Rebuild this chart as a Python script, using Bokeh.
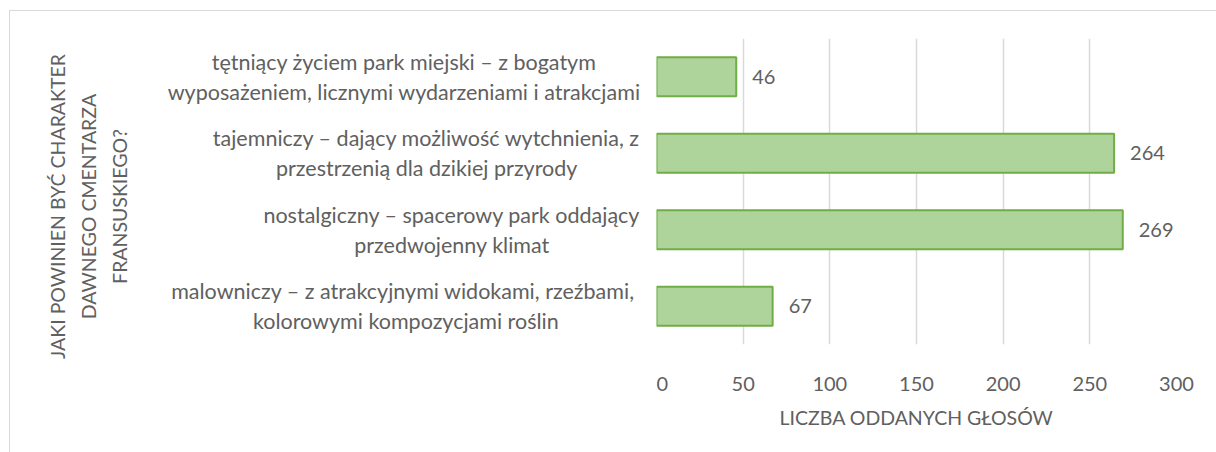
import math
from bokeh.plotting import figure
from bokeh.layouts import row, column
from bokeh.models import Range1d, FactorRange, FixedTicker, LabelSet, ColumnDataSource
from bokeh.core.properties import value
from bokeh.embed import file_html
from bokeh.resources import INLINE

categories = [
    "tętniący życiem park miejski – z bogatym\nwyposażeniem, licznymi wydarzeniami i atrakcjami",
    "tajemniczy – dający możliwość wytchnienia, z\nprzestrzenią dla dzikiej przyrody",
    "nostalgiczny – spacerowy park oddający\nprzedwojenny klimat",
    "malowniczy –  z atrakcyjnymi widokami, rzeźbami,\nkolorowymi kompozycjami roślin",
]
votes = [46, 264, 269, 67]
x_ticks = [0, 50, 100, 150, 200, 250, 300]
x_title = "LICZBA ODDANYCH GŁOSÓW"
y_title = "JAKI POWINIEN BYĆ CHARAKTER\nDAWNEGO CMENTARZA\nFRANSUSKIEGO?"

FONT = "Lato"
GREY = "#606060"
H = 446
TOP, BOTTOM = 27, H + 11 - 344

src = ColumnDataSource(dict(cat=categories, votes=votes, txt=[str(v) for v in votes]))
factors = categories[::-1]

# ---- left panel: category labels and the vertical axis title ----
left = figure(width=646, height=H, output_backend="svg", toolbar_location=None,
              x_range=Range1d(0, 646),
              y_range=FactorRange(factors=factors, range_padding=0.3268,
                                  range_padding_units="absolute"),
              min_border_left=0, min_border_right=0, min_border_top=TOP - 25,
              min_border_bottom=BOTTOM - 25)
left.xaxis.visible = False
left.yaxis.visible = False
left.grid.visible = False
left.outline_line_color = None
left.text(x=630, y="cat", text="cat", source=src, anchor="center_right",
          text_align="center", text_baseline="middle",
          text_font=value(FONT), text_font_size="21.5px", text_color=GREY,
          text_line_height=1.15)
left.text(x=[78], y=[len(factors) / 2], text=[y_title], y_offset=15, angle=math.pi / 2,
          anchor="center", text_align="center", text_baseline="middle",
          text_font=value(FONT), text_font_size="19.5px", text_color=GREY,
          text_line_height=1.36)

# ---- right panel: the bars ----
p = figure(width=564, height=H, output_backend="svg", toolbar_location=None,
           x_range=Range1d(0, 300),
           y_range=FactorRange(factors=factors, range_padding=0),
           min_border_left=0, min_border_right=44, min_border_top=TOP,
           min_border_bottom=BOTTOM)
p.outline_line_color = None

p.hbar(y="cat", right="votes", left=0, height=0.51, source=src,
       fill_color="#aed49b", line_color="#70ad47", line_width=2)

labels = LabelSet(x="votes", y="cat", text="txt", source=src, x_offset=16,
                  text_align="left", text_baseline="middle",
                  text_font=value(FONT), text_font_size="20px", text_color=GREY)
p.add_layout(labels)

p.xaxis.ticker = FixedTicker(ticks=x_ticks)
p.xaxis.axis_line_color = None
p.xaxis.major_tick_line_color = None
p.xaxis.minor_tick_line_color = None
p.xaxis.major_label_text_font = FONT
p.xaxis.major_label_text_font_size = "20px"
p.xaxis.major_label_text_color = GREY
p.xaxis.major_label_standoff = 26
p.xaxis.axis_label = x_title
p.xaxis.axis_label_text_font = FONT
p.xaxis.axis_label_text_font_style = "normal"
p.xaxis.axis_label_text_font_size = "19.5px"
p.xaxis.axis_label_text_color = GREY
p.xaxis.axis_label_standoff = 12

p.yaxis.visible = False
p.ygrid.grid_line_color = None
p.xgrid.grid_line_color = "#d9d9d9"
p.xgrid.grid_line_width = 1.5

layout = row(column(left), column(p), spacing=0)
layout.styles = {"border": "1px solid #d9d9d9", "margin-left": "9px", "margin-top": "10px"}

open("out.html", "w").write(file_html(layout, INLINE))
